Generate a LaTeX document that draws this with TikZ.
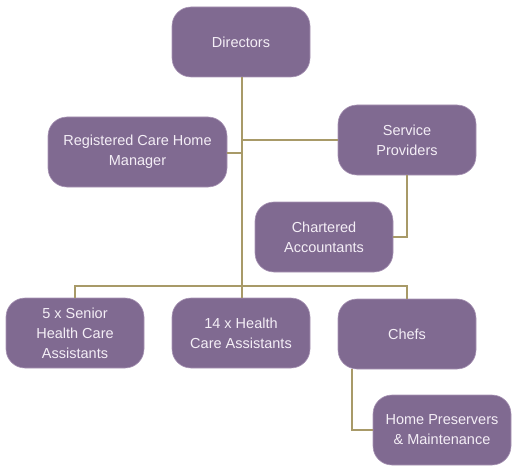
\documentclass[tikz,border=0pt]{standalone}
\usepackage{fontspec}
\setmainfont{Liberation Sans}
\definecolor{boxfill}{HTML}{806A91}
\definecolor{boxedge}{HTML}{A894B4}
\definecolor{linkgold}{HTML}{A89A68}
\definecolor{boxtext}{HTML}{F4EEF6}
\begin{document}
\begin{tikzpicture}[x=1pt,y=-1pt,
  orgbox/.style={draw=boxedge,line width=0.6pt,fill=boxfill,rounded corners=19pt,
    minimum width=138pt,minimum height=70pt,inner sep=2pt,align=center,
    text=boxtext,font=\fontsize{14.5}{20}\selectfont},
  link/.style={draw=linkgold,line width=1.6pt}]
\useasboundingbox (0,0) rectangle (516,473);
\node[orgbox] (dir) at (241,42) {Directors};
\node[orgbox,minimum width=179pt] (mgr) at (137.5,152) {Registered Care Home\\Manager};
\node[orgbox] (sp) at (407,140) {Service\\Providers};
\node[orgbox] (ca) at (324,237) {Chartered\\Accountants};
\node[orgbox] (snr) at (75,333) {5 x Senior\\Health Care\\Assistants};
\node[orgbox] (hca) at (241,333) {14 x Health\\Care Assistants};
\node[orgbox] (chef) at (407,334) {Chefs};
\node[orgbox] (hp) at (442,430) {Home Preservers\\\& Maintenance};
\coordinate (bus) at (242,286);
\coordinate (spj) at (242,140);
\coordinate (mgj) at (242,153);
\coordinate (chefx) at (352,0);
\draw[link] (dir.south -| bus) -- (hca.north -| bus);
\draw[link] (spj) -- (sp.west |- spj);
\draw[link] (mgr.east |- mgj) -- (mgj);
\draw[link] (sp.south) |- (ca.east);
\draw[link] (snr.north) |- (bus) -| (chef.north);
\draw[link] (chef.south -| chefx) |- (hp.west);
\end{tikzpicture}
\end{document}
